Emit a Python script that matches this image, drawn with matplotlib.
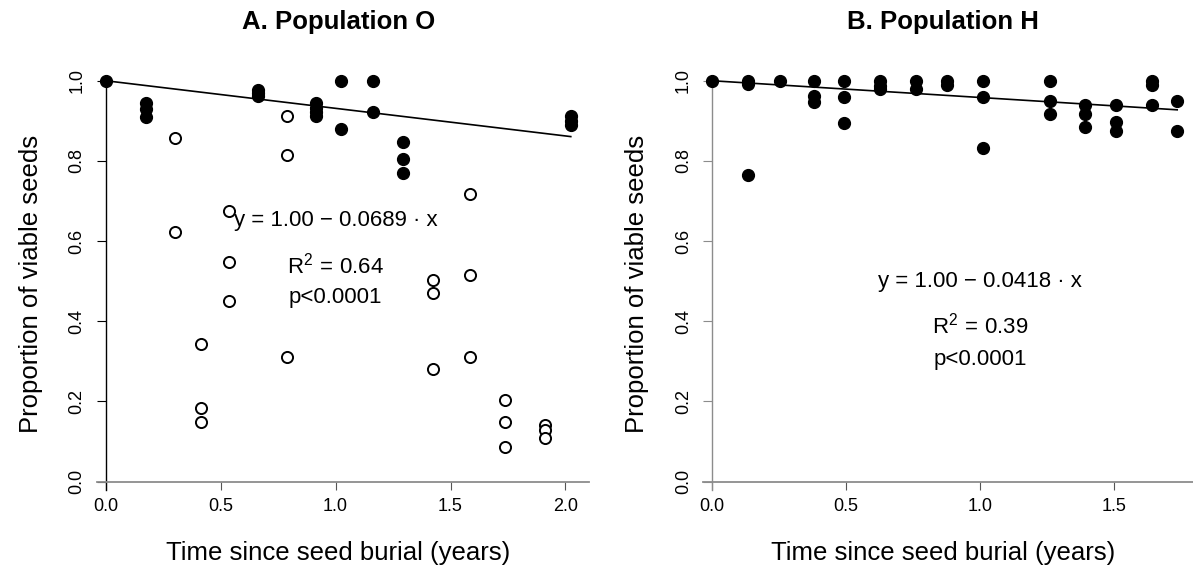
import matplotlib
matplotlib.use("Agg")
import matplotlib.pyplot as plt
import numpy as np

plt.rcParams['font.family'] = ['Liberation Sans', 'DejaVu Sans']
plt.rcParams['mathtext.fontset'] = 'custom'
plt.rcParams['mathtext.rm'] = 'Liberation Sans'
plt.rcParams['mathtext.it'] = 'Liberation Sans:italic'

# Population O: seeds still viable (filled) and ones that lost viability (open)
o_filled_t = [0.0, 0.174, 0.174, 0.174, 0.664, 0.664, 0.664,
              0.913, 0.913, 0.913, 0.913, 1.025, 1.025, 1.161, 1.161,
              1.295, 1.295, 1.295, 2.023, 2.023, 2.023]
o_filled_v = [1.0, 0.945, 0.93, 0.91, 0.978, 0.970, 0.962,
              0.945, 0.932, 0.923, 0.912, 1.0, 0.879, 1.0, 0.923,
              0.848, 0.804, 0.771, 0.912, 0.899, 0.889]
o_open_t = [0.301, 0.301, 0.415, 0.415, 0.415, 0.538, 0.538, 0.538,
            0.787, 0.787, 0.787, 1.422, 1.422, 1.422, 1.585, 1.585, 1.585,
            1.735, 1.735, 1.735, 1.911, 1.911, 1.911]
o_open_v = [0.858, 0.622, 0.342, 0.183, 0.149, 0.676, 0.547, 0.450,
            0.912, 0.815, 0.311, 0.503, 0.471, 0.280, 0.717, 0.515, 0.311,
            0.203, 0.149, 0.085, 0.141, 0.128, 0.108]

# Population H
h_t = [0.0, 0.133, 0.133, 0.133, 0.254, 0.381, 0.381, 0.381,
       0.494, 0.494, 0.494, 0.628, 0.628, 0.628, 0.763, 0.763,
       0.876, 0.876, 1.010, 1.010, 1.010, 1.26, 1.26, 1.26,
       1.393, 1.393, 1.393, 1.507, 1.507, 1.507, 1.642, 1.642, 1.642,
       1.736, 1.736]
h_v = [1.0, 1.0, 0.992, 0.766, 1.0, 1.0, 0.962, 0.948,
       1.0, 0.960, 0.895, 1.0, 0.987, 0.979, 1.0, 0.98,
       1.0, 0.99, 1.0, 0.960, 0.831, 1.0, 0.949, 0.917,
       0.939, 0.917, 0.885, 0.939, 0.896, 0.874, 1.0, 0.99, 0.939,
       0.949, 0.874]

# Fitted regressions (intercept, slope)
o_fit = (1.00, -0.0689)
h_fit = (1.00, -0.0418)
o_stats = ["y = 1.00 \u2212 0.0689 \u00b7 x", r"$\mathregular{R^2\,=\,0.64}$", "p<0.0001"]
h_stats = ["y = 1.00 \u2212 0.0418 \u00b7 x", r"$\mathregular{R^2\,=\,0.39}$", "p<0.0001"]

W, H = 1193, 572
fig = plt.figure(figsize=(W / 100, H / 100), dpi=100)


def px_axes(left, right, bottom, top):
    return fig.add_axes([left / W, 1 - bottom / H, (right - left) / W, (bottom - top) / H])


def style_axes(ax, xlim, xticks, spine_start, ycolor):
    ax.set_xlim(*xlim)
    ax.set_ylim(0, 1.04)
    for s in ("top", "right"):
        ax.spines[s].set_visible(False)
    ax.spines["left"].set_position(("data", 0))
    ax.spines["left"].set_bounds(-0.022, 1.0)
    ax.spines["left"].set_color(ycolor)
    ax.spines["left"].set_linewidth(1.0)
    ax.spines["bottom"].set_bounds(spine_start, xlim[1])
    ax.spines["bottom"].set_color("#8c8c8c")
    ax.spines["bottom"].set_linewidth(1.3)
    ax.set_xticks(xticks)
    ax.set_xticklabels([f"{v:.1f}" for v in xticks])
    yt = [0.0, 0.2, 0.4, 0.6, 0.8, 1.0]
    ax.set_yticks(yt)
    ax.set_yticklabels([f"{v:.1f}" for v in yt], rotation=90, va="center")
    ax.tick_params(axis="x", length=6, width=0.8, color="#555555", pad=6, labelsize=13)
    ax.tick_params(axis="y", length=6.5, width=0.8, color=ycolor, pad=8, labelsize=13)
    ax.set_xlabel("Time since seed burial (years)", fontsize=18.5, labelpad=18.5)
    ax.set_ylabel("Proportion of viable seeds", fontsize=18.5, labelpad=18.5)
    ax.yaxis.label.set_y(0.475)
    ax.patch.set_visible(False)


# Panel A
axA = px_axes(87.1, 589.4, 481.5, 64.7)
style_axes(axA, (-0.081, 2.104), [0.0, 0.5, 1.0, 1.5, 2.0], -0.04, "black")
xa = np.array([0.0, max(o_filled_t)])
axA.plot(xa, o_fit[0] + o_fit[1] * xa, color="black", lw=1.2, zorder=2)
axA.plot(o_open_t, o_open_v, "o", ms=8, mfc="white", mec="black", mew=1.4, clip_on=False, zorder=3)
axA.plot(o_filled_t, o_filled_v, "o", ms=8.5, color="black", clip_on=False, zorder=4)
for txt, yv in zip(o_stats, [0.652, 0.54, 0.458]):
    axA.text(1.0, yv, txt, ha="center", va="center", fontsize=16)
axA.set_title("A. Population O", fontsize=18.5, fontweight="bold", pad=25.5)

# Panel B
axB = px_axes(693.5, 1193, 481.5, 64.7)
style_axes(axB, (-0.069, 1.795), [0.0, 0.5, 1.0, 1.5], -0.034, "#8c8c8c")
xb = np.array([0.0, max(h_t)])
axB.plot(xb, h_fit[0] + h_fit[1] * xb, color="black", lw=1.2, zorder=2)
axB.plot(h_t, h_v, "o", ms=8.5, color="black", clip_on=False, zorder=4)
for txt, yv in zip(h_stats, [0.50, 0.39, 0.305]):
    axB.text(1.0, yv, txt, ha="center", va="center", fontsize=16)
axB.set_title("B. Population H", fontsize=18.5, fontweight="bold", pad=25.5)

fig.savefig("out.png", dpi=100)
